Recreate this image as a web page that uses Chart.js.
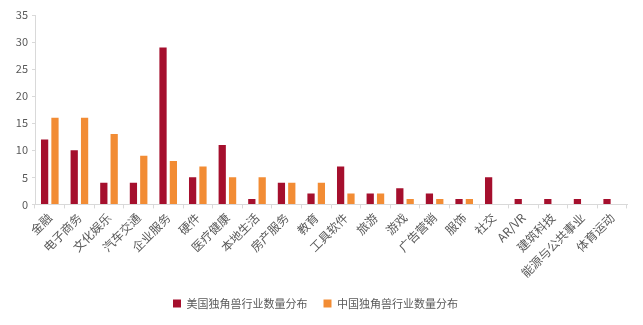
<!DOCTYPE html>
<html>
<head>
<meta charset="utf-8">
<script src="https://cdn.jsdelivr.net/npm/chart.js@4/dist/chart.umd.min.js"></script>
<style>
  body { margin: 0; background: #fff; }
  #wrap { width: 643px; height: 325px; }
</style>
</head>
<body>
<div id="wrap"><canvas id="bar-chart"></canvas></div>
<script>
// industries
var industries = ["金融", "电子商务", "文化娱乐", "汽车交通", "企业服务", "硬件", "医疗健康", "本地生活", "房产服务", "教育",
  "工具软件", "旅游", "游戏", "广告营销", "服饰", "社交", "AR/VR", "建筑科技", "能源与公共事业", "体育运动"];
var usCounts = [12, 10, 4, 4, 29, 5, 11, 1, 4, 2, 7, 2, 3, 2, 1, 5, 1, 1, 1, 1];
var cnCounts = [16, 16, 13, 9, 8, 7, 5, 5, 4, 4, 2, 2, 1, 1, 1, 0, 0, 0, 0, 0];
var yTicks = [0, 5, 10, 15, 20, 25, 30, 35];

var font = "'Noto Sans CJK SC', 'Noto Sans', sans-serif";

new Chart(document.getElementById("bar-chart"), {
  type: 'bar',
  data: {
    labels: industries,
    datasets: [
      {
        label: "美国独角兽行业数量分布",
        backgroundColor: "#A50F2D",
        data: usCounts
      },
      {
        label: "中国独角兽行业数量分布",
        backgroundColor: "#F28C34",
        data: cnCounts
      }
    ]
  },
  options: {
    responsive: true,
    maintainAspectRatio: false,
    animation: false,
    categoryPercentage: 0.7,
    barPercentage: 0.7,
    layout: { padding: { top: 15, right: 16, left: 4, bottom: 6 } },
    plugins: {
      legend: {
        position: 'bottom',
        labels: {
          boxWidth: 8, boxHeight: 8, padding: 16,
          color: '#595959',
          font: { family: font, size: 11 }
        }
      },
      tooltip: { enabled: false }
    },
    scales: {
      x: {
        grid: { display: true, drawOnChartArea: false, drawTicks: true, tickLength: 4, color: '#d9d9d9', offset: true },
        border: { color: '#d9d9d9' },
        ticks: {
          minRotation: 45, maxRotation: 45, autoSkip: false,
          color: '#595959', padding: 2,
          font: { family: font, size: 12 }
        }
      },
      y: {
        min: 0, max: 35,
        afterBuildTicks: function (axis) {
          axis.ticks = yTicks.map(function (v) { return { value: v }; });
        },
        afterFit: function (axis) { axis.width = 31; },
        grid: { display: true, drawOnChartArea: false, drawTicks: true, tickLength: 3, color: '#d9d9d9' },
        border: { color: '#d9d9d9' },
        ticks: {
          color: '#595959', padding: 4,
          font: { family: font, size: 11 }
        }
      }
    }
  }
});
</script>
</body>
</html>
